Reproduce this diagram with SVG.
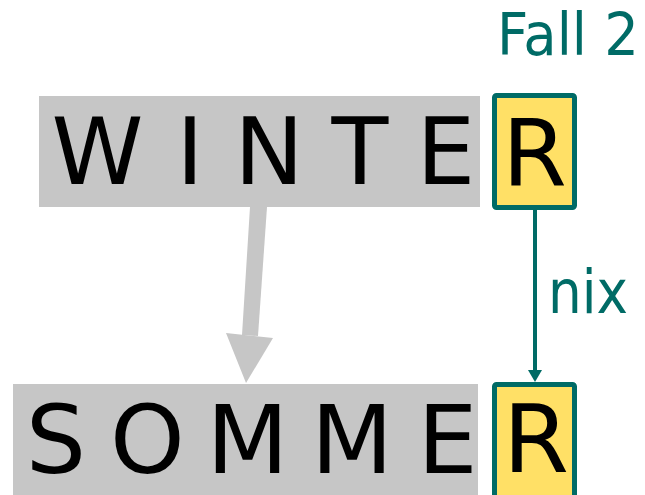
<svg xmlns="http://www.w3.org/2000/svg" width="645" height="495" viewBox="0 0 645 495">
<style>
.gray{fill:#C6C6C6}
.rbox{fill:#FFE066;stroke:#006B66;stroke-width:5}
.big{font-family:"DejaVu Sans",Verdana,sans-serif;fill:#000;text-anchor:middle}
.teal{font-family:"DejaVu Sans",Verdana,sans-serif;fill:#006B66}
</style>
<defs>
<marker id="ah" viewBox="0 0 12 14" refX="2" refY="7" markerWidth="12" markerHeight="14" markerUnits="userSpaceOnUse" orient="auto">
<path d="M0,0 L12,7 L0,14 Z" fill="#006B66"/>
</marker>
</defs>
<g id="fall2-label"><text class="teal" x="497" y="55" font-size="58" textLength="142" lengthAdjust="spacingAndGlyphs">Fall 2</text></g>
<g id="winter">
<rect class="gray" x="39" y="96" width="441" height="111"/>
<text class="big" font-size="93" y="184"><tspan x="97.5">W</tspan><tspan x="190">I</tspan><tspan x="269">N</tspan><tspan x="360">T</tspan><tspan x="446">E</tspan></text>
</g>
<g id="winter-r">
<rect class="rbox" x="494.5" y="95.5" width="80" height="112" rx="2"/>
<text class="big" font-size="93" x="534.5" y="186">R</text>
</g>
<g id="sommer">
<rect class="gray" x="13" y="384" width="465" height="111"/>
<text class="big" font-size="95" y="473"><tspan x="56">S</tspan><tspan x="147.5">O</tspan><tspan x="247.5">M</tspan><tspan x="352">M</tspan><tspan x="447.5">E</tspan></text>
</g>
<g id="sommer-r">
<rect class="rbox" x="494.5" y="384.5" width="80" height="120" rx="2"/>
<text class="big" font-size="95" x="536" y="472">R</text>
</g>
<g id="connectors">
<polygon points="250,207 267,207 258,336 242,335" fill="#C6C6C6"/>
<polygon points="226,333 273,338 246,383" fill="#C6C6C6"/>
<line x1="535" y1="210" x2="535" y2="372" stroke="#006B66" stroke-width="4" marker-end="url(#ah)"/>
<text class="teal" x="548" y="313" font-size="60" textLength="80" lengthAdjust="spacingAndGlyphs">nix</text>
</g>
</svg>
